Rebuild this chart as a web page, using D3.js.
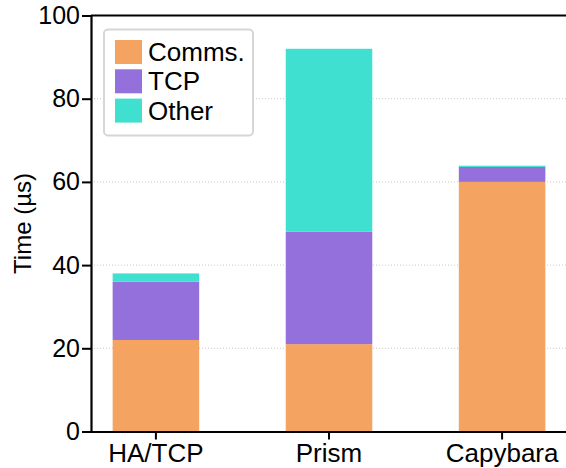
<!DOCTYPE html>
<html>
<head>
<meta charset="utf-8">
<script src="https://cdn.jsdelivr.net/npm/d3@7/dist/d3.min.js"></script>
<style>
  html, body { margin: 0; padding: 0; background: #fff; }
  svg { display: block; font-family: "Liberation Sans", Arial, Helvetica, sans-serif; }
</style>
</head>
<body>
<svg id="chart" width="566" height="468"></svg>
<script>
// Latency breakdown per system (microseconds)
const systems = ["HA/TCP", "Prism", "Capybara"];
const seriesNames = ["Comms.", "TCP", "Other"];
const comms = [22, 21, 60];
const tcp = [14, 27, 3.6];
const other = [2, 44, 0.3];
const yTicks = [0, 20, 40, 60, 80, 100];
const colors = ["#F4A460", "#9370DB", "#40E0D0"];

const rows = systems.map((s, i) => ({ system: s, "Comms.": comms[i], "TCP": tcp[i], "Other": other[i] }));
const stacked = d3.stack().keys(seriesNames)(rows);

const svg = d3.select("#chart");
const plotLeft = 91, plotRight = 567, plotTop = 15.5, plotBottom = 431.5;

const x = d3.scaleBand().domain(systems).range([plotLeft, plotRight]).paddingInner(0.5).paddingOuter(0.125);
const y = d3.scaleLinear().domain([0, 100]).range([plotBottom, plotTop]);

// dotted horizontal gridlines
svg.append("g").selectAll("line")
  .data(yTicks.filter(t => t > 0 && t < 100))
  .join("line")
  .attr("x1", plotLeft).attr("x2", plotRight)
  .attr("y1", d => y(d)).attr("y2", d => y(d))
  .attr("stroke", "#c8c8c8").attr("stroke-width", 1)
  .attr("stroke-dasharray", "1,2");

// stacked bars
svg.append("g").selectAll("g")
  .data(stacked)
  .join("g")
  .attr("fill", (d, i) => colors[i])
  .selectAll("rect")
  .data(d => d)
  .join("rect")
  .attr("x", d => x(d.data.system))
  .attr("width", x.bandwidth())
  .attr("y", d => y(d[1]))
  .attr("height", d => y(d[0]) - y(d[1]));

// top frame line
svg.append("line")
  .attr("x1", plotLeft).attr("x2", plotRight)
  .attr("y1", plotTop).attr("y2", plotTop)
  .attr("stroke", "#000").attr("stroke-width", 2);

// y axis
const yAxis = svg.append("g")
  .attr("transform", `translate(${plotLeft},0)`)
  .call(d3.axisLeft(y).tickValues(yTicks).tickSize(9).tickPadding(2));
yAxis.select(".domain").attr("stroke-width", 2.2);
yAxis.selectAll(".tick line").attr("stroke-width", 2);
yAxis.selectAll("text").attr("font-size", 25).attr("fill", "#000")
  .attr("font-family", "Liberation Sans, Arial, sans-serif");

// x axis
const xAxis = svg.append("g")
  .attr("transform", `translate(0,${plotBottom})`)
  .call(d3.axisBottom(x).tickSize(8).tickSizeOuter(0).tickPadding(4));
xAxis.select(".domain").attr("stroke-width", 2.2);
xAxis.selectAll(".tick line").attr("stroke-width", 2);
xAxis.selectAll("text").attr("font-size", 26).attr("fill", "#000")
  .attr("font-family", "Liberation Sans, Arial, sans-serif");

// y axis title
svg.append("text")
  .attr("transform", `translate(31,${(plotTop + plotBottom) / 2}) rotate(-90)`)
  .attr("text-anchor", "middle")
  .attr("font-size", 24)
  .text("Time (µs)");

// legend
const legend = svg.append("g");
legend.append("rect")
  .attr("x", 104).attr("y", 29.5)
  .attr("width", 149).attr("height", 106)
  .attr("rx", 4).attr("ry", 4)
  .attr("fill", "#fff")
  .attr("stroke", "#d6d6d6").attr("stroke-width", 2);
const item = legend.selectAll("g.item")
  .data(seriesNames)
  .join("g")
  .attr("class", "item")
  .attr("transform", (d, i) => `translate(115,${40 + i * 29.3})`);
item.append("rect")
  .attr("width", 27).attr("height", 24)
  .attr("fill", (d, i) => colors[i]);
item.append("text")
  .attr("x", 33).attr("y", 21)
  .attr("font-size", 26)
  .text(d => d);
</script>
</body>
</html>
